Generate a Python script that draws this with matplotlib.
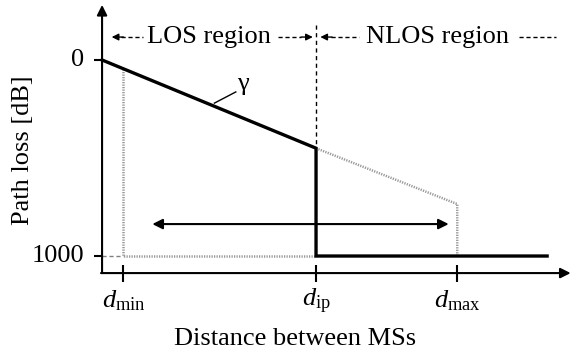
import matplotlib
matplotlib.use("Agg")
import matplotlib.pyplot as plt

plt.rcParams['font.family'] = ['Liberation Serif', 'DejaVu Serif']
plt.rcParams['mathtext.fontset'] = 'custom'
plt.rcParams['mathtext.rm'] = 'Liberation Serif'
plt.rcParams['mathtext.it'] = 'Liberation Serif:italic'

# schematic values (distance in arbitrary units, path loss in dB)
d_min = 1.0
d_ip = 10.0
d_max = 16.6
d_end = 20.8
x_axis_end = 21.9

y_ticks = [0, 1000]
y_tick_labels = ["0", "1000"]
x_ticks = [d_min, d_ip, d_max]
x_tick_labels = [r"$d_{\mathrm{min}}$", r"$d_{\mathrm{ip}}$", r"$d_{\mathrm{max}}$"]

loss_at_ip = 450
loss_at_max = 735
loss_floor = 1000

# thick curve: LOS slope, then jump to 1000 at d_ip
curve_x = [0, d_ip, d_ip, d_end]
curve_y = [0, loss_at_ip, loss_floor, loss_floor]

# grey dotted outline
dotted_x = [d_min, d_min, d_ip]
dotted_y = [45, loss_floor, loss_floor]
dotted2_x = [d_ip, d_max, d_max]
dotted2_y = [loss_at_ip, loss_at_max, loss_floor]

fs = 19

fig = plt.figure(figsize=(5.79, 3.56), dpi=100)
ax = fig.add_axes([0, 0, 1, 1])
ax.set_xlim(-4.77, 22.29)
ax.set_ylim(1510, -306)
ax.axis("off")

x_axis_y = 1087
y_axis_top = -281

# axes with arrows
ax.annotate("", xy=(0, y_axis_top), xytext=(0, x_axis_y),
            arrowprops=dict(arrowstyle="-|>", lw=1.5, color="k", mutation_scale=15, shrinkA=0, shrinkB=0))
ax.annotate("", xy=(x_axis_end, x_axis_y), xytext=(-0.05, x_axis_y),
            arrowprops=dict(arrowstyle="-|>", lw=1.5, color="k", mutation_scale=15, shrinkA=0, shrinkB=0))

# y ticks
for yv, lab in zip(y_ticks, y_tick_labels):
    ax.plot([-0.38, 0], [yv, yv], color="k", lw=1.5, solid_capstyle="butt")
    ax.text(-0.85, yv, lab, ha="right", va="center", fontsize=fs)

# x ticks
for xv, lab in zip(x_ticks, x_tick_labels):
    ax.plot([xv, xv], [x_axis_y - 40, x_axis_y + 45], color="k", lw=1.5, solid_capstyle="butt")
    ax.text(xv, 1230, lab, ha="center", va="center", fontsize=fs)

# dashed from 1000 tick to d_min
ax.plot([0, d_min], [loss_floor, loss_floor], color="gray", lw=1, ls=(0, (3, 2)))

# grey dotted lines
ax.plot(dotted_x, dotted_y, color="#999999", lw=1.8, ls=(0, (0.5, 0.5)))
ax.plot(dotted2_x, dotted2_y, color="#999999", lw=1.8, ls=(0, (0.5, 0.5)))

# main curve
ax.plot(curve_x, curve_y, color="k", lw=2.4, solid_joinstyle="miter")

# vertical dashed at d_ip
ax.plot([d_ip, d_ip], [-180, loss_at_ip], color="k", lw=1, ls=(0, (3, 2.5)))

# double arrow
ax.annotate("", xy=(2.35, 837), xytext=(16.2, 837),
            arrowprops=dict(arrowstyle="<|-|>", lw=1.5, color="k", mutation_scale=15, shrinkA=0, shrinkB=0))

# gamma label
ax.plot([5.25, 6.25], [220, 163], color="k", lw=1)
ax.text(6.6, 125, "\u03b3", ha="center", va="center", fontsize=fs)

# region headers
hy = -117
ax.plot([0.9, 1.9], [hy, hy], color="k", lw=1, ls=(0, (3, 2)))
ax.annotate("", xy=(0.45, hy), xytext=(1.0, hy),
            arrowprops=dict(arrowstyle="-|>", lw=1, color="k", mutation_scale=10, shrinkA=0, shrinkB=0))
ax.text(5.0, hy, "LOS region", ha="center", va="center", fontsize=fs)
ax.plot([8.2, 9.3], [hy, hy], color="k", lw=1, ls=(0, (3, 2)))
ax.annotate("", xy=(9.85, hy), xytext=(9.3, hy),
            arrowprops=dict(arrowstyle="-|>", lw=1, color="k", mutation_scale=10, shrinkA=0, shrinkB=0))

ax.plot([10.7, 12.0], [hy, hy], color="k", lw=1, ls=(0, (3, 2)))
ax.annotate("", xy=(10.2, hy), xytext=(10.75, hy),
            arrowprops=dict(arrowstyle="-|>", lw=1, color="k", mutation_scale=10, shrinkA=0, shrinkB=0))
ax.text(15.7, hy, "NLOS region", ha="center", va="center", fontsize=fs)
ax.plot([19.5, 21.2], [hy, hy], color="k", lw=1, ls=(0, (3, 2)))

# axis labels
ax.text(9.0, 1425, "Distance between MSs", ha="center", va="center", fontsize=fs)
ax.text(-3.7, 460, "Path loss [dB]", ha="center", va="center", fontsize=fs, rotation=90)

fig.savefig("out.png", dpi=100)
